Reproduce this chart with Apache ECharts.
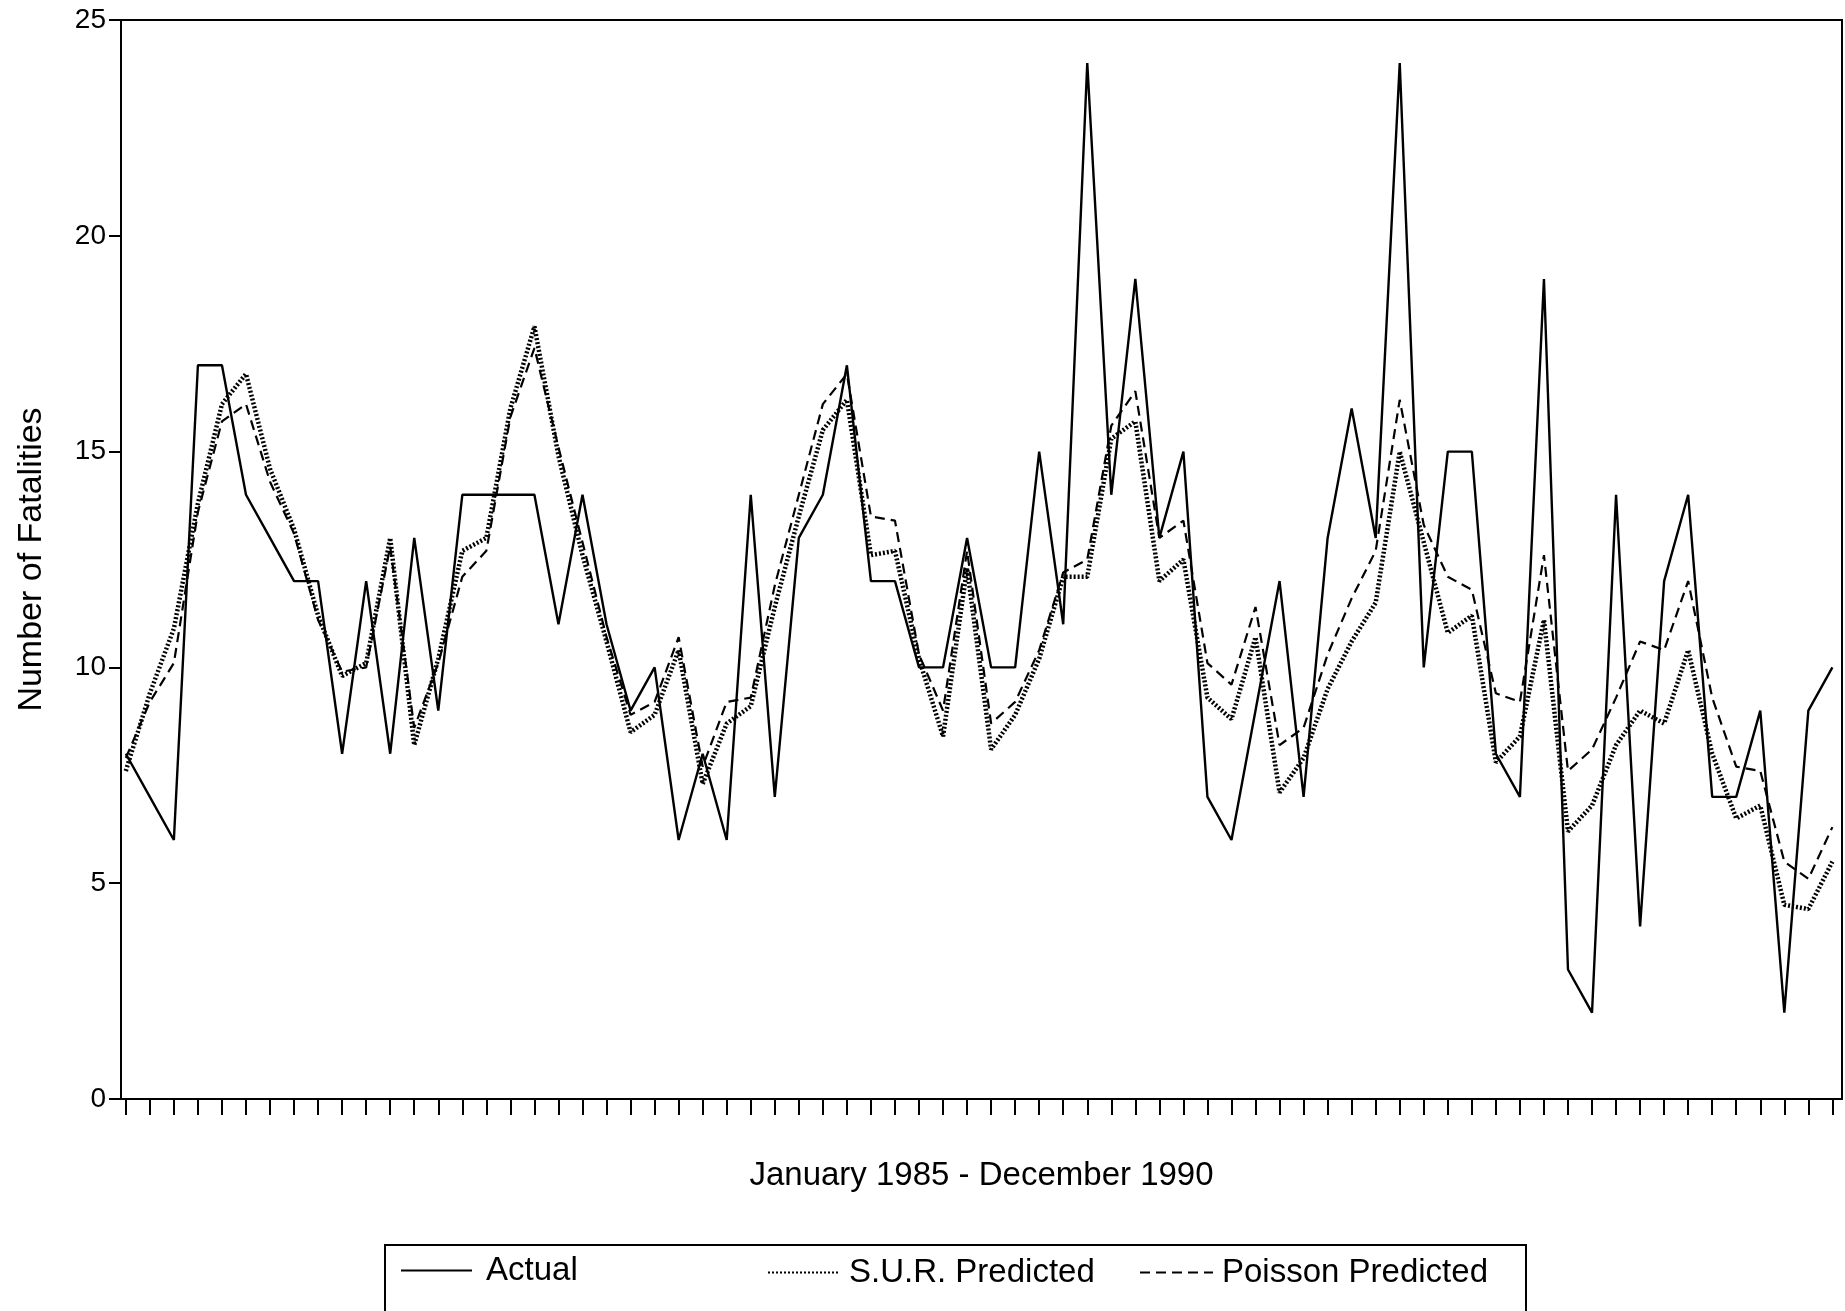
<!DOCTYPE html>
<html>
<head>
<meta charset="utf-8">
<title>Fatalities Jan 1985 - Dec 1990</title>
<script src="https://cdn.jsdelivr.net/npm/echarts@6/dist/echarts.min.js"></script>
<style>
  html, body { margin: 0; padding: 0; background: #fff; }
  #main { width: 1845px; height: 1311px; }
</style>
</head>
<body>
<div id="main"></div>
<script>
// months, January 1985 - December 1990
var years = [1985, 1986, 1987, 1988, 1989, 1990];
var monthNames = ['Jan', 'Feb', 'Mar', 'Apr', 'May', 'Jun', 'Jul', 'Aug', 'Sep', 'Oct', 'Nov', 'Dec'];
var months = [];
years.forEach(function (y) {
    monthNames.forEach(function (m) { months.push(m + ' ' + y); });
});

var actual = [
    8, 7, 6, 17, 17, 14, 13, 12, 12, 8, 12, 8,
    13, 9, 14, 14, 14, 14, 11, 14, 11, 9, 10, 6,
    8, 6, 14, 7, 13, 14, 17, 12, 12, 10, 10, 13,
    10, 10, 15, 11, 24, 14, 19, 13, 15, 7, 6, 9,
    12, 7, 13, 16, 13, 24, 10, 15, 15, 8, 7, 19,
    3, 2, 14, 4, 12, 14, 7, 7, 9, 2, 9, 10
];
var surPredicted = [
    7.6, 9.4, 10.9, 13.8, 16.1, 16.8, 14.6, 13.2, 11.2, 9.8, 10.1, 13.0,
    8.2, 10.2, 12.7, 13.0, 16.0, 17.9, 14.9, 12.6, 10.6, 8.5, 8.9, 10.4,
    7.3, 8.7, 9.1, 11.4, 13.5, 15.5, 16.2, 12.6, 12.7, 10.2, 8.4, 12.3,
    8.1, 8.9, 10.2, 12.1, 12.1, 15.3, 15.7, 12.0, 12.5, 9.3, 8.8, 10.7,
    7.1, 7.9, 9.5, 10.6, 11.5, 15.0, 12.9, 10.8, 11.2, 7.8, 8.4, 11.1,
    6.2, 6.8, 8.2, 9.0, 8.7, 10.4, 8.0, 6.5, 6.8, 4.5, 4.4, 5.5
];
var poissonPredicted = [
    7.9, 9.2, 10.1, 13.6, 15.7, 16.1, 14.3, 13.1, 11.1, 9.9, 10.0, 12.8,
    8.6, 10.1, 12.1, 12.7, 15.8, 17.4, 15.1, 12.9, 10.7, 8.9, 9.2, 10.7,
    7.7, 9.2, 9.3, 11.9, 14.0, 16.1, 16.8, 13.5, 13.4, 10.3, 9.0, 12.7,
    8.7, 9.2, 10.4, 12.2, 12.5, 15.6, 16.4, 13.0, 13.4, 10.1, 9.6, 11.4,
    8.2, 8.6, 10.3, 11.6, 12.7, 16.2, 13.3, 12.1, 11.8, 9.4, 9.2, 12.6,
    7.6, 8.1, 9.3, 10.6, 10.4, 12.0, 9.3, 7.7, 7.6, 5.5, 5.1, 6.3
];
var yTicks = [0, 5, 10, 15, 20, 25];

function pairs(arr) {
    return arr.map(function (v, i) { return [i, v]; });
}
var monthTicks = months.map(function (m, i) { return i; });

var font = 'Liberation Sans, Arial, Helvetica, sans-serif';
function legendText(gap) {
    return {fontSize: 33, color: '#000', fontFamily: font, padding: [0, 0, 0, gap]};
}

var myChart = echarts.init(document.getElementById('main'));
option = {
    backgroundColor: '#fff',
    animation: false,
    grid: {
        left: 121,
        right: 3,
        top: 20,
        bottom: 212,
        show: true,
        borderColor: '#000',
        borderWidth: 2
    },
    tooltip: {
        trigger: 'axis',
        formatter: function (p) {
            var s = months[p[0].data[0]];
            p.forEach(function (it) { s += '<br/>' + it.seriesName + ': ' + it.data[1]; });
            return s;
        }
    },
    legend: [
        {
            data: ['Actual'],
            left: 395, top: 1249,
            itemWidth: 71, itemHeight: 16,
            itemStyle: {opacity: 0},
            textStyle: legendText(9)
        },
        {
            data: ['S.U.R. Predicted'],
            left: 762, top: 1251,
            itemWidth: 71, itemHeight: 16,
            itemStyle: {opacity: 0},
            textStyle: legendText(5)
        },
        {
            data: ['Poisson Predicted'],
            left: 1134, top: 1251,
            itemWidth: 73, itemHeight: 16,
            itemStyle: {opacity: 0},
            textStyle: legendText(4)
        }
    ],
    graphic: [
        {
            type: 'rect',
            shape: {x: 385, y: 1245, width: 1141, height: 100},
            style: {fill: 'none', stroke: '#000', lineWidth: 2},
            silent: true
        }
    ],
    xAxis: {
        type: 'value',
        min: -0.2,
        max: 71.4,
        name: 'January 1985 - December 1990',
        nameLocation: 'middle',
        nameGap: 60,
        nameTextStyle: {fontSize: 33, color: '#000', fontFamily: font},
        axisLine: {show: true, onZero: false, lineStyle: {color: '#000', width: 2}},
        axisTick: {
            show: true,
            inside: false,
            length: 16,
            customValues: monthTicks,
            lineStyle: {color: '#000', width: 2}
        },
        axisLabel: {show: false},
        splitLine: {show: false}
    },
    yAxis: {
        type: 'value',
        min: 0,
        max: 25,
        interval: 5,
        name: 'Number of Fatalities',
        nameLocation: 'middle',
        nameRotate: 90,
        nameGap: 72,
        nameTextStyle: {fontSize: 34, color: '#000', fontFamily: font},
        axisLine: {show: true, onZero: false, lineStyle: {color: '#000', width: 2}},
        axisTick: {
            show: true,
            inside: false,
            length: 12,
            customValues: yTicks,
            lineStyle: {color: '#000', width: 2}
        },
        axisLabel: {
            fontSize: 28,
            color: '#000',
            fontFamily: font,
            margin: 15,
            customValues: yTicks
        },
        splitLine: {show: false}
    },
    series: [
        {
            name: 'Actual',
            type: 'line',
            data: pairs(actual),
            symbol: 'none',
            color: '#000',
            lineStyle: {color: '#000', width: 2.4, type: 'solid'}
        },
        {
            name: 'S.U.R. Predicted',
            type: 'line',
            data: pairs(surPredicted),
            symbol: 'none',
            color: '#000',
            lineStyle: {color: '#000', width: 4.5, type: [2, 2]}
        },
        {
            name: 'Poisson Predicted',
            type: 'line',
            data: pairs(poissonPredicted),
            symbol: 'none',
            color: '#000',
            lineStyle: {color: '#000', width: 2.2, type: [10, 6]}
        }
    ]
};
myChart.setOption(option);
</script>
</body>
</html>
